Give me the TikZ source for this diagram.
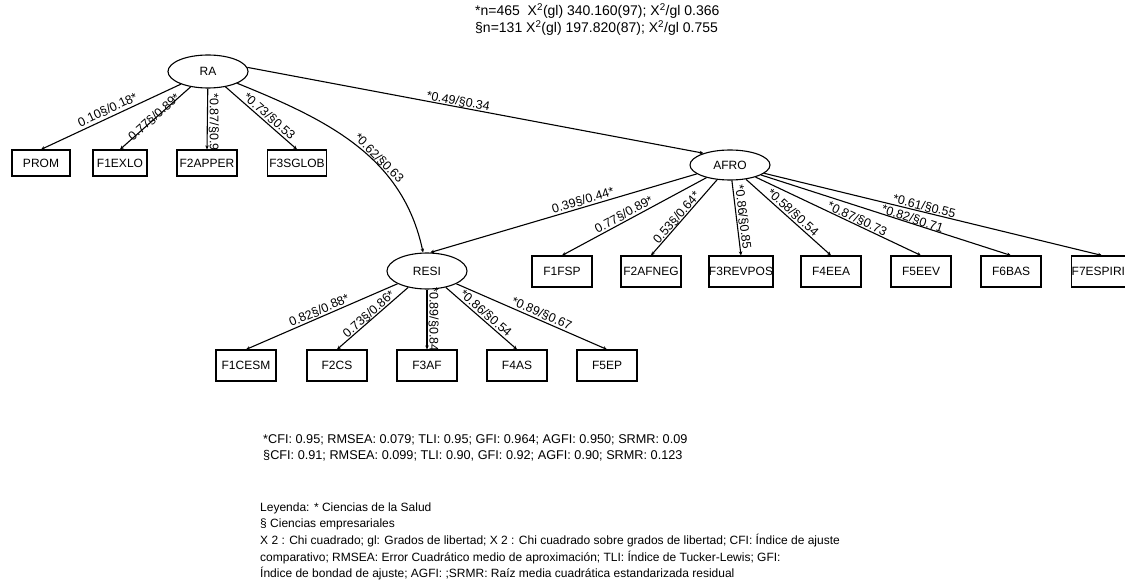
\documentclass[tikz,border=0pt]{standalone}
\usepackage{fontspec}
\setmainfont{Liberation Sans}
\usetikzlibrary{shapes.geometric,arrows.meta}
\begin{document}
\begin{tikzpicture}[x=1pt,y=1pt,
  lat/.style={ellipse,draw,line width=1.1pt,minimum width=80pt,minimum height=33pt,inner sep=0pt,font=\fontsize{12}{14}\selectfont},
  obs/.style={rectangle,draw,line width=1.1pt,minimum width=60pt,minimum height=31pt,inner sep=0pt,font=\fontsize{12}{14}\selectfont},
  conn/.style={line width=1.1pt,-{Stealth[length=4pt,width=3.5pt]}},
  lab/.style={font=\fontsize{12.5}{14}\selectfont,inner sep=1pt},
  txt/.style={font=\fontsize{12}{14}\selectfont,inner sep=0pt,anchor=west}
]
\useasboundingbox (0,0) rectangle (1125,-588);
% latent variables
\node[lat] (RA) at (208,-71.5) {RA};
\node[lat,minimum height=30pt] (AFRO) at (730,-165) {AFRO};
\node[lat,minimum height=36pt] (RESI) at (427,-271) {RESI};
% RA indicators
\node[obs,minimum height=26pt,minimum width=58pt] (PROM) at (41,-163) {PROM};
\node[obs,minimum height=26pt,minimum width=54pt] (F1EXLO) at (120,-163) {F1EXLO};
\node[obs,minimum height=26pt,minimum width=60pt] (F2APPER) at (207,-163) {F2APPER};
\node[obs,minimum height=26pt,minimum width=59pt] (F3SGLOB) at (297,-163) {F3SGLOB};
% AFRO indicators
\node[obs] (F1FSP) at (562,-271.5) {F1FSP};
\node[obs] (F2AFNEG) at (651,-271.5) {F2AFNEG};
\node[obs] (F3REVPOS) at (741,-271.5) {F3REVPOS};
\node[obs] (F4EEA) at (831,-271.5) {F4EEA};
\node[obs] (F5EEV) at (921,-271.5) {F5EEV};
\node[obs] (F6BAS) at (1011,-271.5) {F6BAS};
\node[obs] (F7ESPIRIT) at (1102,-271.5) {F7ESPIRIT};
% RESI indicators
\node[obs] (F1CESM) at (246,-365.5) {F1CESM};
\node[obs] (F2CS) at (337,-365.5) {F2CS};
\node[obs] (F3AF) at (427,-365.5) {F3AF};
\node[obs] (F4AS) at (517,-365.5) {F4AS};
\node[obs] (F5EP) at (607,-365.5) {F5EP};
% RA loadings
\draw[conn] (RA) -- node[lab,sloped,above=1pt,pos=0.5] {0.10§/0.18*} (PROM.north);
\draw[conn] (RA) -- node[lab,sloped,above=-5pt,pos=0.5] {0.77§/0.89*} (F1EXLO.north);
\draw[conn] (RA) -- node[lab,rotate=-90,anchor=south,pos=0.55] {*0.87/§0.9} (F2APPER.north);
\draw[conn] (RA) -- node[lab,sloped,above=0pt,pos=0.55] {*0.73/§0.53} (F3SGLOB.north);
% structural paths
\draw[conn] (RA.6) -- node[lab,sloped,above=-1pt,pos=0.46] {*0.49/§0.34} (AFRO.156);
\draw[conn] (RA) to[out=-22,in=102] node[lab,sloped,above=-1pt,pos=0.6] {*0.62/§0.63} (RESI);
\draw[conn] (AFRO.195) -- node[lab,sloped,above=0pt,pos=0.42] {0.39§/0.44*} (RESI.80);
% AFRO loadings
\draw[conn] (AFRO) -- node[lab,sloped,above=0pt,pos=0.55] {0.77§/0.89*} (F1FSP.north);
\draw[conn] (AFRO) -- node[lab,sloped,above=-1pt,pos=0.55] {0.53§/0.64*} (F2AFNEG.north);
\draw[conn] (AFRO) -- node[lab,sloped,above=0pt,pos=0.5] {*0.86/§0.85} (F3REVPOS.north);
\draw[conn] (AFRO) -- node[lab,sloped,above=0pt,pos=0.5] {*0.58/§0.54} (F4EEA.north);
\draw[conn] (AFRO) -- node[lab,sloped,above=-1pt,pos=0.6] {*0.87/§0.73} (F5EEV.north);
\draw[conn] (AFRO) -- node[lab,sloped,above=-2pt,pos=0.6] {*0.82/§0.71} (F6BAS.north);
\draw[conn] (AFRO) -- node[lab,sloped,above=-1pt,pos=0.47] {*0.61/§0.55} (F7ESPIRIT.north);
% RESI loadings
\draw[conn] (RESI) -- node[lab,sloped,above=0pt,pos=0.5] {0.82§/0.88*} (F1CESM.north);
\draw[conn] (RESI) -- node[lab,sloped,above=-1pt,pos=0.5] {0.73§/0.86*} (F2CS.north);
\draw[conn] (RESI) -- node[lab,rotate=-90,anchor=south,pos=0.5] {*0.89/§0.84} (F3AF.north);
\draw[conn] (RESI) -- node[lab,sloped,above=0pt,pos=0.5] {*0.86/§0.54} (F4AS.north);
\draw[conn] (RESI) -- node[lab,sloped,above=0pt,pos=0.55] {*0.89/§0.67} (F5EP.north);
% header
\node[txt,font=\fontsize{14}{16}\selectfont] (hdr1) at (475,-11) {*n=465\ \ X\textsuperscript{2}(gl) 340.160(97); X\textsuperscript{2}/gl 0.366};
\node[txt,font=\fontsize{14}{16}\selectfont] (hdr2) at (475,-28) {§n=131 X\textsuperscript{2}(gl) 197.820(87); X\textsuperscript{2}/gl 0.755};
% fit indices
\node[txt,font=\fontsize{12.7}{14}\selectfont] (fit1) at (263,-440) {*CFI: 0.95; RMSEA: 0.079; TLI: 0.95; GFI: 0.964; AGFI: 0.950; SRMR: 0.09};
\node[txt,font=\fontsize{12.7}{14}\selectfont] (fit2) at (263,-456) {§CFI: 0.91; RMSEA: 0.099; TLI: 0.90, GFI: 0.92; AGFI: 0.90; SRMR: 0.123};
% legend
\node[txt] (leg1) at (260,-508) {Leyenda: * Ciencias de la Salud};
\node[txt] (leg2) at (260,-524.5) {§ Ciencias empresariales};
\node[txt] (leg3) at (260,-541) {X 2 : Chi cuadrado; gl: Grados de libertad; X 2 : Chi cuadrado sobre grados de libertad; CFI: Índice de ajuste};
\node[txt] (leg4) at (260,-557.5) {comparativo; RMSEA: Error Cuadrático medio de aproximación; TLI: Índice de Tucker-Lewis; GFI:};
\node[txt] (leg5) at (260,-574) {Índice de bondad de ajuste; AGFI: ;SRMR: Raíz media cuadrática estandarizada residual};
\end{tikzpicture}
\end{document}
